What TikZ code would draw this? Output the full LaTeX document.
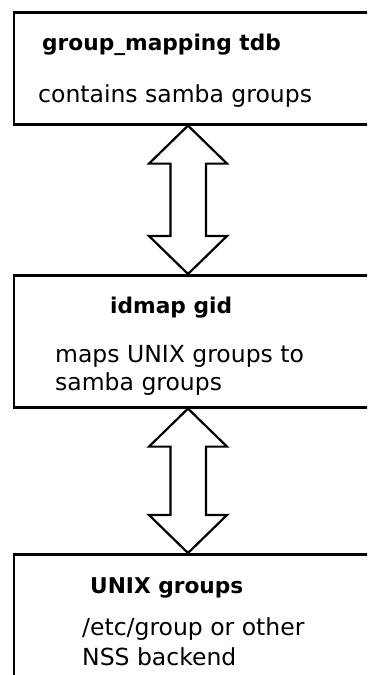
\documentclass[tikz,border=0pt]{standalone}
\usepackage{fontspec}
\setmainfont{DejaVu Sans}
\usetikzlibrary{calc}
\newcommand\mydblarrow[2]{%
  \draw[dbl] (#1) -- ($(#1)+(39,38)$) -- ($(#1)+(18,38)$) -- ($(#2)+(18,-38)$)
    -- ($(#2)+(39,-38)$) -- (#2) -- ($(#2)+(-39,-38)$) -- ($(#2)+(-17.5,-38)$)
    -- ($(#1)+(-17.5,38)$) -- ($(#1)+(-39,38)$) -- cycle;}
\begin{document}
\begin{tikzpicture}[x=1pt,y=-1pt,
  box/.style={draw=black,line width=2.6pt,fill=white,rectangle,anchor=north west,inner sep=0pt,minimum width=420pt},
  ttl/.style={anchor=base west,inner sep=0pt,font=\fontsize{21.7}{26}\selectfont\bfseries},
  txt/.style={anchor=base west,inner sep=0pt,font=\fontsize{23.5}{29}\selectfont,text=black},
  dbl/.style={draw=black,line width=2.2pt,fill=white,line join=miter}
]
\useasboundingbox (0,0) rectangle (367,675);
\clip (0,0) rectangle (367,675);
\node[box,minimum height=112pt] (b1) at (12.5,11) {};
\node[box,minimum height=132pt] (b2) at (12.5,274) {};
\node[box,minimum height=200pt] (b3) at (12.5,553) {};
\coordinate (ax) at (188,0);
\coordinate (a1t) at (b1.south -| ax);
\coordinate (a1b) at (b2.north -| ax);
\coordinate (a2t) at (b2.south -| ax);
\coordinate (a2b) at (b3.north -| ax);
\mydblarrow{a1t}{a1b}
\mydblarrow{a2t}{a2b}
\node[ttl] (t1) at (42,50) {group\_mapping tdb};
\node[txt] (d1) at (38,102) {contains samba groups};
\node[ttl] (t2) at (110,313) {idmap gid};
\node[txt] (d2a) at (55,362) {maps UNIX groups to};
\node[txt] (d2b) at (55,390) {samba groups};
\node[ttl] (t3) at (90,593) {UNIX groups};
\node[txt] (d3a) at (82,635) {/etc/group or other};
\node[txt] (d3b) at (82,665) {NSS backend};
\end{tikzpicture}
\end{document}
